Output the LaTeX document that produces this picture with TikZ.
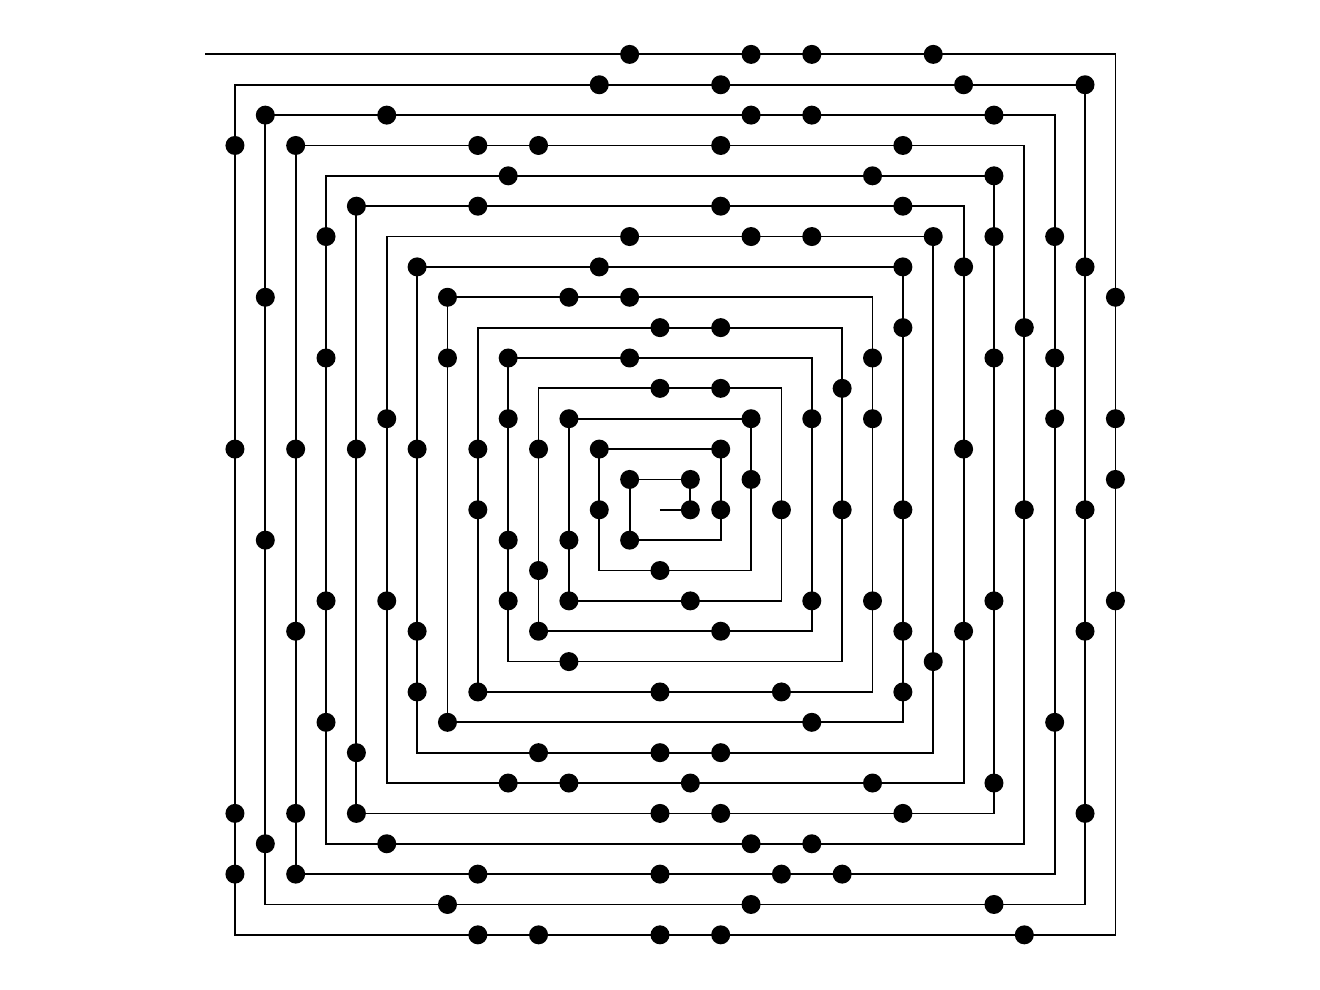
\documentclass[tikz,border=0pt]{standalone}
\newcount\ux \newcount\uy \newcount\uk \newcount\um \newcount\ut \newcount\un
\newcount\ud \newcount\uq
\newif\ifuprime \newif\ifugo
\def\ulampos#1{%
  \un=#1\relax
  \uk=0
  \loop\ifnum\numexpr(2*\uk+1)*(2*\uk+1)\relax<\un \advance\uk by 1 \repeat
  \um=\numexpr(2*\uk+1)*(2*\uk+1)\relax
  \ut=\numexpr2*\uk\relax
  \ifnum\un<\numexpr\um-\ut\relax
    \advance\um by -\ut
    \ifnum\un<\numexpr\um-\ut\relax
      \advance\um by -\ut
      \ifnum\un<\numexpr\um-\ut\relax
        \ux=\uk \uy=\numexpr\uk-(\um-\un-\ut)\relax
      \else
        \ux=\numexpr-\uk+(\um-\un)\relax \uy=\uk
      \fi
    \else
      \ux=-\uk \uy=\numexpr-\uk+(\um-\un)\relax
    \fi
  \else
    \ux=\numexpr\uk-(\um-\un)\relax \uy=-\uk
  \fi}
\def\uisprime#1{%
  \un=#1\relax \uprimetrue
  \ifnum\un<2 \uprimefalse\fi
  \ud=2 \ugotrue
  \loop
    \ifnum\numexpr\ud*\ud\relax>\un \ugofalse\fi
    \ifugo
      \uq=\un \divide\uq by \ud \multiply\uq by \ud
      \ifnum\uq=\un \uprimefalse\ugofalse\fi
      \advance\ud by 1
    \fi
  \ifugo\repeat}
\tikzset{spiral/.style={line width=1.8pt,black},
  primedot/.style={fill=black}}
\begin{document}
\begin{tikzpicture}[x=30.36pt,y=30.36pt]
\useasboundingbox[fill=white] (-660pt,-480.2pt) rectangle (660pt,509.8pt);
\draw[spiral] (0,0) \foreach \k in {1,...,14}{ -- (\k,{1-\k}) -- (\k,\k) -- ({-\k},\k) -- ({-\k},{-\k})} -- (15,-14) -- (15,15) -- (-15,15);
\foreach \n in {2,...,901}{\uisprime{\n}\ifuprime\ulampos{\n}\fill[primedot] (\the\ux,\the\uy) circle[radius=9.5pt];\fi}
\end{tikzpicture}
\end{document}
